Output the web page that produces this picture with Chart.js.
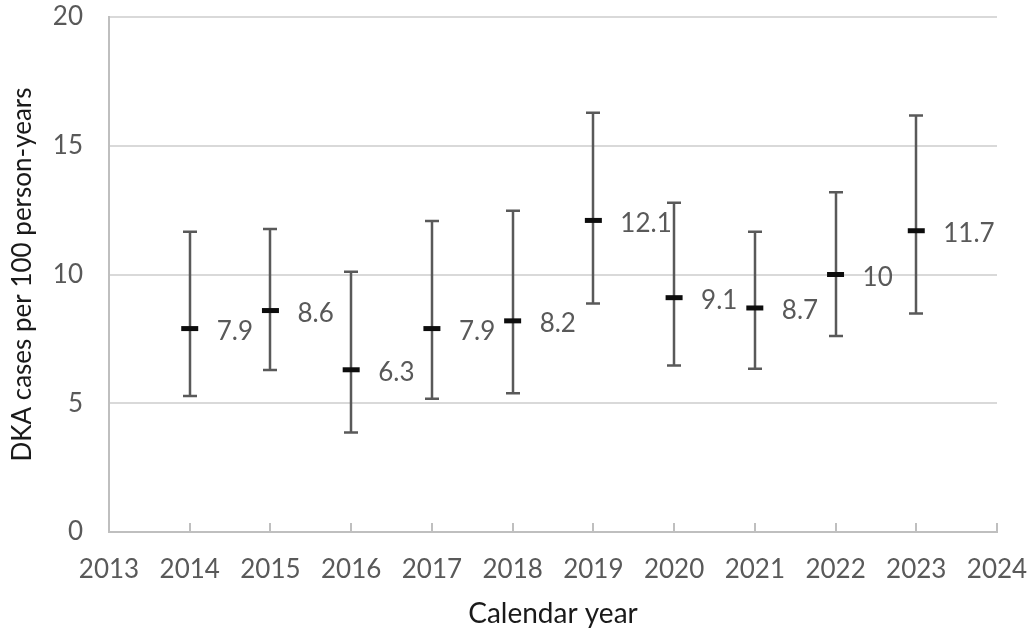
<!DOCTYPE html>
<html>
<head>
<meta charset="utf-8">
<script src="https://cdn.jsdelivr.net/npm/chart.js@4.4.1/dist/chart.umd.min.js"></script>
<style>
  html, body { margin: 0; padding: 0; background: #fff; }
  #wrap { width: 1030px; height: 632px; }
</style>
</head>
<body>
<div id="wrap"><canvas id="dka"></canvas></div>
<script>
const years = [2014, 2015, 2016, 2017, 2018, 2019, 2020, 2021, 2022, 2023];
const rates = [7.9, 8.6, 6.3, 7.9, 8.2, 12.1, 9.1, 8.7, 10, 11.7];
const lower = [5.28, 6.29, 3.86, 5.17, 5.39, 8.87, 6.47, 6.34, 7.61, 8.49];
const upper = [11.66, 11.77, 10.11, 12.08, 12.48, 16.28, 12.79, 11.66, 13.19, 16.17];
const rateLabels = ["7.9", "8.6", "6.3", "7.9", "8.2", "12.1", "9.1", "8.7", "10", "11.7"];

const FONT = "Lato, 'Open Sans', sans-serif";

// whiskers + x tick marks + value labels
const errorBars = {
  id: "errorBars",
  beforeDatasetsDraw(chart) {
    const { ctx, scales: { x, y }, chartArea } = chart;
    ctx.save();
    // small inward tick marks on the x axis
    ctx.strokeStyle = "#bfbfbf";
    ctx.lineWidth = 2;
    for (let yr = 2014; yr <= 2024; yr++) {
      const px = Math.round(x.getPixelForValue(yr));
      ctx.beginPath();
      ctx.moveTo(px, chartArea.bottom);
      ctx.lineTo(px, chartArea.bottom - 9);
      ctx.stroke();
    }
    ctx.strokeStyle = "#595959";
    ctx.lineWidth = 2.5;
    years.forEach((yr, i) => {
      const px = Math.round(x.getPixelForValue(yr));
      const top = y.getPixelForValue(upper[i]);
      const bot = y.getPixelForValue(lower[i]);
      ctx.beginPath();
      ctx.moveTo(px, top);
      ctx.lineTo(px, bot);
      ctx.moveTo(px - 7, top);
      ctx.lineTo(px + 7, top);
      ctx.moveTo(px - 7, bot);
      ctx.lineTo(px + 7, bot);
      ctx.stroke();
    });
    ctx.restore();
  },
  afterDatasetsDraw(chart) {
    const { ctx, scales: { x, y } } = chart;
    ctx.save();
    ctx.fillStyle = "#595959";
    ctx.font = "26px " + FONT;
    ctx.textAlign = "left";
    ctx.textBaseline = "middle";
    years.forEach((yr, i) => {
      ctx.fillText(rateLabels[i], x.getPixelForValue(yr) + 27, y.getPixelForValue(rates[i]) + 3);
    });
    ctx.restore();
  },
};

new Chart(document.getElementById("dka"), {
  type: "scatter",
  data: {
    datasets: [
      {
        data: years.map((yr, i) => ({ x: yr, y: rates[i] })),
        pointStyle: "line",
        radius: 8.5,
        hoverRadius: 8.5,
        borderColor: "#0d0d0d",
        backgroundColor: "#0d0d0d",
        borderWidth: 5,
        showLine: false,
      },
    ],
  },
  options: {
    responsive: true,
    maintainAspectRatio: false,
    animation: false,
    layout: { padding: { left: 0, top: 17, right: 33, bottom: 0 } },
    plugins: { legend: { display: false }, tooltip: { enabled: false } },
    scales: {
      x: {
        type: "linear",
        min: 2013,
        max: 2024,
        afterFit: (s) => {
          s.height = 100;
          s.paddingLeft = 0;
          s.paddingRight = 0;
        },
        ticks: {
          stepSize: 1,
          padding: 22,
          color: "#595959",
          font: { family: FONT, size: 26 },
          callback: (v) => String(v),
        },
        grid: { drawOnChartArea: false, drawTicks: false },
        border: { color: "#bfbfbf", width: 2 },
        title: {
          display: true,
          text: "Calendar year",
          color: "#1a1a1a",
          font: { family: FONT, size: 28 },
          padding: { top: 0, bottom: 1 },
        },
      },
      y: {
        min: 0,
        max: 20,
        afterFit: (s) => {
          s.width = 109;
          s.paddingTop = 0;
          s.paddingBottom = 0;
        },
        ticks: {
          stepSize: 5,
          padding: 26,
          color: "#595959",
          font: { family: FONT, size: 26 },
        },
        grid: { color: "#d9d9d9", lineWidth: 2, drawTicks: false },
        border: { color: "#bfbfbf", width: 2 },
        title: {
          display: true,
          text: "DKA cases per 100 person-years",
          color: "#1a1a1a",
          font: { family: FONT, size: 26 },
          padding: { top: 7, bottom: 0 },
        },
      },
    },
  },
  plugins: [errorBars],
});
</script>
</body>
</html>
